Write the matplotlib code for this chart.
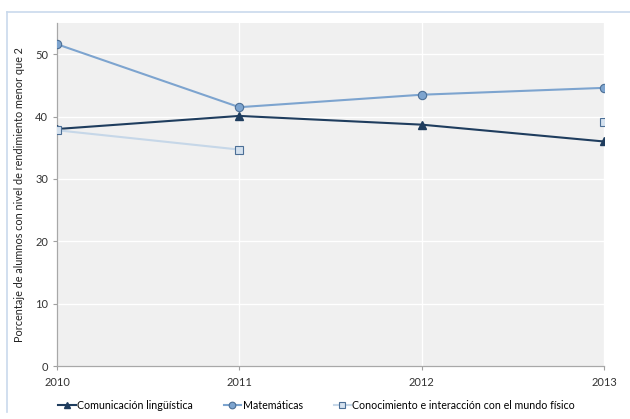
import matplotlib
matplotlib.use("Agg")
import matplotlib.pyplot as plt
from matplotlib.lines import Line2D
import numpy as np

years = [2010, 2011, 2012, 2013]
comunicacion = [38.0, 40.1, 38.7, 36.0]
matematicas = [51.6, 41.5, 43.5, 44.6]
conocimiento = [37.8, 34.7, np.nan, 39.1]

labels = ["Comunicación lingüística", "Matemáticas",
          "Conocimiento e interacción con el mundo físico"]

plt.rcParams["font.family"] = ["Lato", "DejaVu Sans"]

fig = plt.figure(figsize=(6.3, 4.19), dpi=100)
ax = fig.add_axes([57 / 630, 1 - 366 / 419, (604 - 57) / 630, (366 - 23) / 419])

ax.set_facecolor("#f0f0f0")
ax.grid(True, color="white", linewidth=1.0)
ax.set_axisbelow(True)

c_dark = "#1f3d5e"
c_mid = "#7da4cf"
c_light = "#c6d7e8"

ax.plot(years, comunicacion, color=c_dark, lw=1.5, marker="^", ms=6,
        mfc=c_dark, mec=c_dark, label=labels[0], zorder=3)
ax.plot(years, matematicas, color=c_mid, lw=1.5, marker="o", ms=6,
        mfc=c_mid, mec="#4c6f96", mew=0.8, label=labels[1], zorder=3)
ax.plot(years, conocimiento, color=c_light, lw=1.5, marker="s", ms=6,
        mfc="#d4e1ee", mec="#4c6f96", mew=0.8, label=labels[2], zorder=3)

ax.set_xlim(2010, 2013)
ax.set_ylim(0, 55)
ax.set_xticks(years)
ax.set_yticks([0, 10, 20, 30, 40, 50])
ax.tick_params(axis="both", labelsize=8, colors="#333333", length=3,
               width=0.8, direction="out")
ax.tick_params(axis="both", color="#a0a0a0")
ax.tick_params(axis="x", pad=5)

for s in ["top", "right"]:
    ax.spines[s].set_visible(False)
for s in ["left", "bottom"]:
    ax.spines[s].set_color("#a8a8a8")
    ax.spines[s].set_linewidth(0.9)

ax.set_ylabel("Porcentaje de alumnos con nivel de rendimiento menor que 2",
              fontsize=7.8, color="#222222", labelpad=7)

ax.legend(loc="upper center", bbox_to_anchor=(0.475, -0.07), ncol=3,
          frameon=False, fontsize=7.7, handlelength=1.6, handletextpad=0.15,
          columnspacing=2.9, markerscale=0.8)

# outer frame (left and top edges)
fig.add_artist(Line2D([7 / 630, 7 / 630], [1 - 12 / 419, 1 - 412 / 419],
                      color="#c9d9ec", lw=1.2))
fig.add_artist(Line2D([7 / 630, 1.0], [1 - 12 / 419, 1 - 12 / 419],
                      color="#c9d9ec", lw=1.2))

fig.savefig("out.png", dpi=100)
